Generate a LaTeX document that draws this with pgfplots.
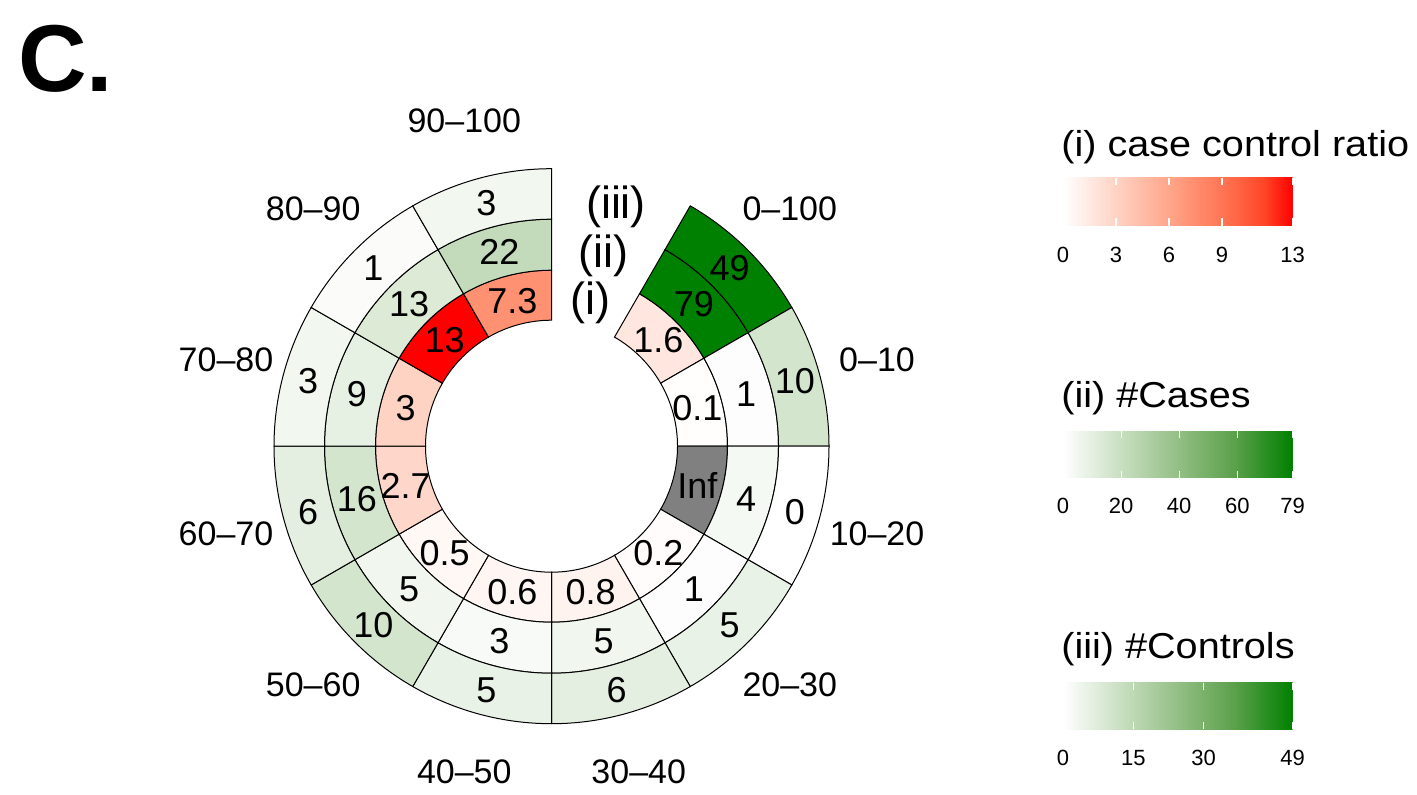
\documentclass[border=0pt]{standalone}
\usepackage{fontspec}
\setmainfont{Liberation Sans}
\newfontfamily\legtitlefont[FakeStretch=1.1]{Liberation Sans}
\usepackage{pgfplots}
\usepackage{pgfplotstable}
\pgfplotsset{compat=1.18}

\definecolor{infgrey}{RGB}{128,128,128}
\definecolor{rA}{RGB}{255,207,191}
\definecolor{rB}{RGB}{255,158,129}
\definecolor{rC}{RGB}{255,104,70}
\definecolor{rD}{RGB}{255,70,40}
\definecolor{rE}{RGB}{255,0,0}
\definecolor{gA}{RGB}{201,223,193}
\definecolor{gB}{RGB}{147,191,133}
\definecolor{gC}{RGB}{91,160,74}
\definecolor{gD}{RGB}{0,128,0}

\pgfdeclarehorizontalshading{ratioshade}{100bp}{color(0bp)=(white); color(25bp)=(white); color(37.5bp)=(rA); color(50bp)=(rB); color(62.5bp)=(rC); color(68.75bp)=(rD); color(75bp)=(rE); color(100bp)=(rE)}
\pgfdeclarehorizontalshading{greenshade}{100bp}{color(0bp)=(white); color(25bp)=(white); color(37.5bp)=(gA); color(50bp)=(gB); color(62.5bp)=(gC); color(75bp)=(gD); color(100bp)=(gD)}

\pgfplotsset{
  colormap={ratiomap}{rgb255(0cm)=(255,255,255); rgb255(2cm)=(255,207,191); rgb255(4cm)=(255,158,129); rgb255(6cm)=(255,104,70); rgb255(7cm)=(255,70,40); rgb255(8cm)=(255,0,0)},
  colormap={greenmap}{rgb255(0cm)=(255,255,255); rgb255(1cm)=(201,223,193); rgb255(2cm)=(147,191,133); rgb255(3cm)=(91,160,74); rgb255(4cm)=(0,128,0)},
}

% sectors clockwise from the top gap
\pgfplotstableread{
lo hi ratio cases controls
0 100 1.6 79 49
0 10 0.1 1 10
10 20 Inf 4 0
20 30 0.2 1 5
30 40 0.8 5 6
40 50 0.6 3 5
50 60 0.5 5 10
60 70 2.7 16 6
70 80 3 9 3
80 90 13 13 1
90 100 7.3 22 3
}\circdata

\def\ratiomax{13}
\def\casesmax{79}
\def\ctrlmax{49}
\def\cx{551.5}
\def\cy{347.8}
\def\rI{126}
\def\rII{176}
\def\rIII{227}
\def\rIV{277.5}
\def\infstr{Inf}

\newcommand\annsec[5]{%
  \path[#5] (axis cs:{\cx+(#3)*cos(#1)},{\cy+(#3)*sin(#1)})
    arc[start angle=#1,end angle=#2,radius={(#3)*0.5pt}]
    -- (axis cs:{\cx+(#4)*cos(#2)},{\cy+(#4)*sin(#2)})
    arc[start angle=#2,end angle=#1,radius={(#4)*0.5pt}] -- cycle;}

\tikzset{
  celltxt/.style={font=\fontsize{18}{21}\selectfont, inner sep=0pt, text height=12.9pt, text depth=0pt, anchor=center},
  seclab/.style={font=\fontsize{17}{20}\selectfont, inner sep=0pt, text height=12.2pt, text depth=0pt, anchor=center},
  legtick/.style={font=\fontsize{11}{13}\selectfont, inner sep=0pt, text height=7.9pt, text depth=0pt, anchor=center},
  legtitle/.style={font=\legtitlefont\fontsize{18}{21}\selectfont, inner sep=0pt, anchor=west},
  ringlab/.style={font=\fontsize{22.5}{26}\selectfont, inner sep=0pt, anchor=center},
  secline/.style={draw=black, line width=0.5pt},
}

\newcommand\cbar[6]{% #1 top px, #2 bottom px, #3 shading, #4 max, #5 ticks, #6 label y px
  \shade[shading=#3] (axis cs:1063,{794-#1}) rectangle (axis cs:1292.5,{794-#2});
  \foreach \t in {#5}{%
    \draw[white, line width=0.6pt] (axis cs:{1063+\t/#4*229.5},{794-#1}) -- ++(0,-3.6pt);
    \draw[white, line width=0.6pt] (axis cs:{1063+\t/#4*229.5},{794-#2}) -- ++(0,3.6pt);
    \node[legtick] at (axis cs:{1063+\t/#4*229.5},{794-#6}) {\t};
  }}

\begin{document}
\begin{tikzpicture}
\begin{axis}[
  width=708.5pt, height=397pt, scale only axis,
  xmin=0, xmax=1417, ymin=0, ymax=794,
  enlargelimits=false, hide axis, clip=false,
]
\path (axis cs:0,0) rectangle (axis cs:1417,794);
\pgfplotsextra{%
  \foreach \k in {0,...,10}{%
    \pgfplotstablegetelem{\k}{ratio}\of\circdata \let\vR\pgfplotsretval
    \pgfplotstablegetelem{\k}{cases}\of\circdata \let\vCa\pgfplotsretval
    \pgfplotstablegetelem{\k}{controls}\of\circdata \let\vCo\pgfplotsretval
    \pgfplotstablegetelem{\k}{lo}\of\circdata \let\vLo\pgfplotsretval
    \pgfplotstablegetelem{\k}{hi}\of\circdata \let\vHi\pgfplotsretval
    \pgfmathsetmacro\aA{60-30*\k}%
    \pgfmathsetmacro\aB{30-30*\k}%
    \pgfmathsetmacro\aM{45-30*\k}%
    % ring (i): case control ratio
    \ifx\vR\infstr
      \annsec{\aA}{\aB}{\rI}{\rII}{fill=infgrey,secline}%
    \else
      \pgfplotsset{colormap name=ratiomap}%
      \pgfmathtruncatemacro\cv{\vR/\ratiomax*1000}%
      \pgfplotscolormapdefinemappedcolor{\cv}%
      \annsec{\aA}{\aB}{\rI}{\rII}{fill=mapped color,secline}%
    \fi
    % ring (ii): cases
    \pgfplotsset{colormap name=greenmap}%
    \pgfmathtruncatemacro\cv{\vCa/\casesmax*1000}%
    \pgfplotscolormapdefinemappedcolor{\cv}%
    \annsec{\aA}{\aB}{\rII}{\rIII}{fill=mapped color,secline}%
    % ring (iii): controls
    \pgfmathtruncatemacro\cv{\vCo/\ctrlmax*1000}%
    \pgfplotscolormapdefinemappedcolor{\cv}%
    \annsec{\aA}{\aB}{\rIII}{\rIV}{fill=mapped color,secline}%
    % texts
    \node[celltxt] at (axis cs:{\cx+151*cos(\aM)},{\cy+151*sin(\aM)}) {\vR};
    \node[celltxt] at (axis cs:{\cx+201.5*cos(\aM)},{\cy+201.5*sin(\aM)}) {\vCa};
    \node[celltxt] at (axis cs:{\cx+252*cos(\aM)},{\cy+252*sin(\aM)}) {\vCo};
    \node[seclab] at (axis cs:{\cx+337*cos(\aM)},{\cy+337*sin(\aM)}) {\vLo–\vHi};
  }%
  % colour bars
  \cbar{177.7}{225.7}{ratioshade}{13}{0,3,6,9,13}{255}
  \cbar{431}{477.7}{greenshade}{79}{0,20,40,60,79}{505.5}
  \cbar{682.7}{729.3}{greenshade}{49}{0,15,30,49}{758}
}
% ring labels
\node[ringlab] at (axis cs:616,587) {(iii)};
\node[ringlab] at (axis cs:603.5,538) {(ii)};
\node[ringlab] at (axis cs:590,491) {(i)};
% legend titles
\node[legtitle] at (axis cs:1061,647.3) {(i) case control ratio};
\node[legtitle] at (axis cs:1061,395.7) {(ii) \#Cases};
\node[legtitle] at (axis cs:1061,145) {(iii) \#Controls};
% panel tag
\node[anchor=base west, inner sep=0pt, font=\bfseries\fontsize{47.5}{50}\selectfont] at (axis cs:18,702) {C.};
\end{axis}
\end{tikzpicture}
\end{document}
